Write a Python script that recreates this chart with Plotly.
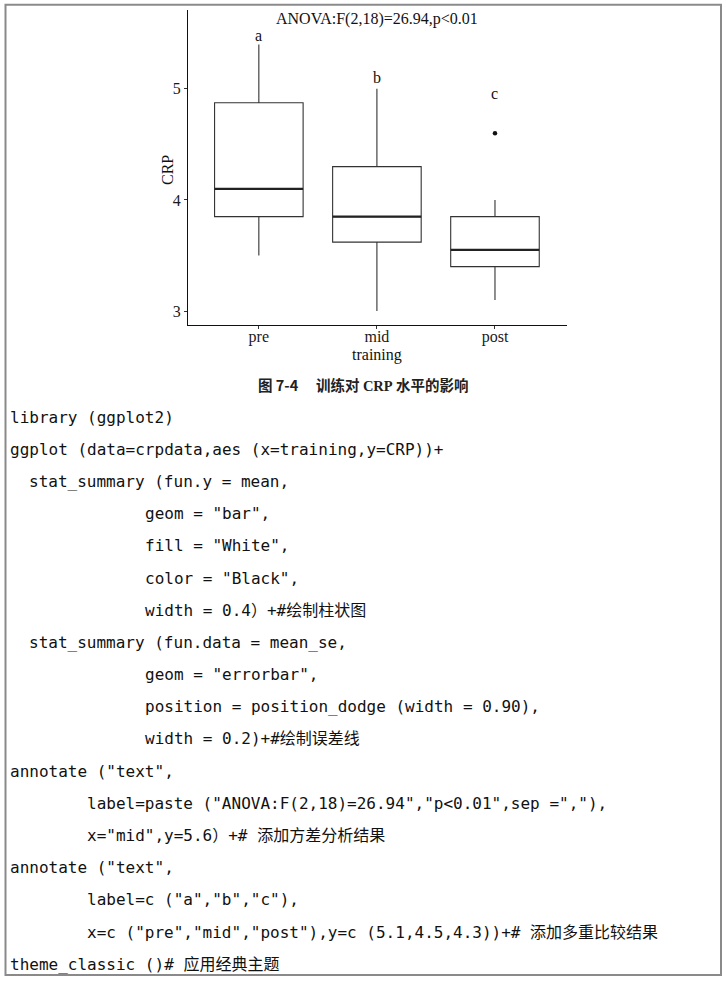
import plotly.graph_objects as go

# ---- data ----
categories = ["pre", "mid", "post"]
positions = [1, 2, 3]
q1 = [3.85, 3.62, 3.40]
medians = [4.10, 3.85, 3.55]
q3 = [4.875, 4.30, 3.85]
lower_whisker = [3.50, 3.00, 3.10]
upper_whisker = [5.40, 5.00, 4.00]
outlier_x = [3]
outlier_y = [4.60]
letters = ["a", "b", "c"]
letter_y = [5.48, 5.10, 4.96]
anova_text = "ANOVA:F(2,18)=26.94,p<0.01"
anova_x = 2
anova_y = 5.63
y_ticks = [3, 4, 5]
x_title = "training"
y_title = "CRP"

caption = ('<span style="font-family:Noto Sans CJK SC">图 7-4</span>'
           '<span style="font-family:Noto Sans CJK SC">\u3000 训练对 </span>'
           '<span style="font-family:Liberation Serif">CRP</span>'
           '<span style="font-family:Noto Sans CJK SC"> 水平的影响</span>')

code_lines = [
    (0, "library (ggplot2)"),
    (0, "ggplot (data=crpdata,aes (x=training,y=CRP))+"),
    (2, "stat_summary (fun.y = mean,"),
    (14, "geom = \"bar\","),
    (14, "fill = \"White\","),
    (14, "color = \"Black\","),
    (14, "width = 0.4）+#绘制柱状图"),
    (2, "stat_summary (fun.data = mean_se,"),
    (14, "geom = \"errorbar\","),
    (14, "position = position_dodge (width = 0.90),"),
    (14, "width = 0.2)+#绘制误差线"),
    (0, "annotate (\"text\","),
    (8, "label=paste (\"ANOVA:F(2,18)=26.94\",\"p<0.01\",sep =\",\"),"),
    (8, "x=\"mid\",y=5.6）+# 添加方差分析结果"),
    (0, "annotate (\"text\","),
    (8, "label=c (\"a\",\"b\",\"c\"),"),
    (8, "x=c (\"pre\",\"mid\",\"post\"),y=c (5.1,4.5,4.3))+# 添加多重比较结果"),
    (0, "theme_classic ()# 应用经典主题"),
]

# ---- layout geometry (pixels) ----
W, H = 726, 983
PL, PR, PT, PB = 188, 567, 10, 325


def px(x):
    return (x - PL) / (PR - PL)


def py(y):
    return (PB - y) / (PB - PT)


fig = go.Figure()

fig.add_trace(go.Box(
    x=positions, q1=q1, median=medians, q3=q3,
    lowerfence=lower_whisker, upperfence=upper_whisker,
    width=0.75, whiskerwidth=0, boxpoints=False,
    line=dict(color="#333333", width=1.1), fillcolor="rgba(255,255,255,0)",
    showlegend=False, hoverinfo="skip"))

# thicker median lines (ggplot fatten)
mx, my = [], []
for p, m in zip(positions, medians):
    mx += [p - 0.375, p + 0.375, None]
    my += [m, m, None]
fig.add_trace(go.Scatter(x=mx, y=my, mode="lines",
                         line=dict(color="#222222", width=2.3),
                         showlegend=False, hoverinfo="skip"))

fig.add_trace(go.Scatter(x=outlier_x, y=outlier_y, mode="markers",
                         marker=dict(color="#111111", size=4.5),
                         showlegend=False, hoverinfo="skip"))

serif = "Liberation Serif, Times New Roman, serif"

annotations = [dict(x=anova_x, y=anova_y, xref="x", yref="y", text=anova_text,
                    showarrow=False, font=dict(family=serif, size=16, color="#111"))]
for p, t, ly in zip(positions, letters, letter_y):
    annotations.append(dict(x=p, y=ly, xref="x", yref="y", text=t, showarrow=False,
                            font=dict(family=serif, size=16, color="#111")))

# axis titles
annotations.append(dict(x=px(377), y=py(354.5), xref="paper", yref="paper", text=x_title,
                        showarrow=False, xanchor="center", yanchor="middle",
                        font=dict(family=serif, size=16, color="#111")))
annotations.append(dict(x=px(167), y=py(170), xref="paper", yref="paper", text=y_title,
                        showarrow=False, xanchor="center", yanchor="middle", textangle=-90,
                        font=dict(family=serif, size=16, color="#111")))

annotations.append(dict(x=px(363), y=py(384), xref="paper", yref="paper", text="<b>" + caption + "</b>",
                        showarrow=False, xanchor="center", yanchor="middle",
                        font=dict(family="Noto Sans CJK SC", size=14.5, color="#222")))

line_y0, line_step = 417, 32.2
for i, (indent, txt) in enumerate(code_lines):
    x0 = 8 + indent * 9.62
    yc = line_y0 + i * line_step
    annotations.append(dict(x=px(x0), y=py(yc), xref="paper", yref="paper", text=txt,
                            showarrow=False, xanchor="left", yanchor="middle",
                            font=dict(family="DejaVu Sans Mono, Noto Sans CJK SC", size=16, color="#111")))

shapes = [dict(type="rect", xref="paper", yref="paper",
               x0=px(5.5), x1=px(721), y0=py(4.8), y1=py(975),
               line=dict(color="#8a8a8a", width=2), fillcolor="rgba(0,0,0,0)")]

fig.update_layout(
    width=W, height=H, autosize=False,
    margin=dict(l=PL, r=W - PR, t=PT, b=H - PB, pad=0),
    paper_bgcolor="white", plot_bgcolor="white",
    annotations=annotations, shapes=shapes,
    xaxis=dict(range=[0.4, 3.61], tickvals=positions, ticktext=categories,
               showline=True, linecolor="#111", linewidth=1.2, mirror=False,
               ticks="outside", ticklen=3, tickcolor="#333", showgrid=False, zeroline=False,
               ticklabelstandoff=-6,
               tickfont=dict(family=serif, size=16, color="#1a1a1a")),
    yaxis=dict(range=[2.874, 5.71], tickvals=y_ticks,
               showline=True, linecolor="#111", linewidth=1.2,
               ticks="outside", ticklen=3, tickcolor="#333", showgrid=False, zeroline=False,
               tickfont=dict(family=serif, size=16, color="#1a1a1a")),
)

fig.write_html("out.html", config={"displayModeBar": False},
               post_script="document.body.style.margin='0';")
